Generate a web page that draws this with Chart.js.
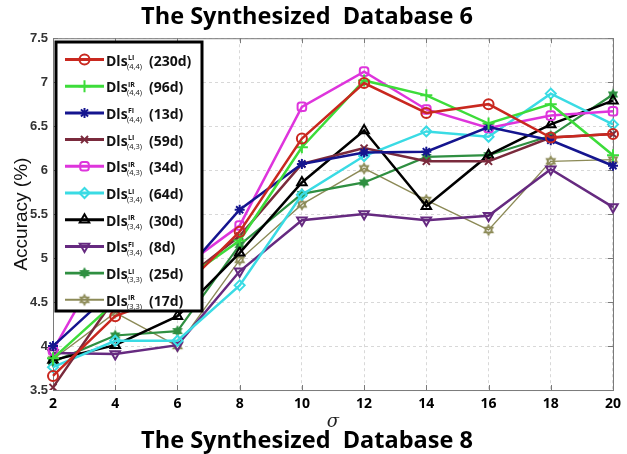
<!DOCTYPE html>
<html>
<head>
<meta charset="utf-8">
<script src="https://cdn.jsdelivr.net/npm/chart.js@4/dist/chart.umd.min.js"></script>
<style>
  html, body { margin: 0; padding: 0; background: #fff; }
  #wrap { width: 627px; height: 454px; }
</style>
</head>
<body>
<div id="wrap"><canvas id="c" width="627" height="454"></canvas></div>
<script>
// Noise level sigma on the x axis
const sigma = [2, 4, 6, 8, 10, 12, 14, 16, 18, 20];

// Accuracy (%) per descriptor variant
const li44 = [3.66, 4.34, 4.60, 5.30, 6.36, 6.99, 6.65, 6.75, 6.37, 6.41];
const ir44 = [3.86, 4.50, 4.70, 5.20, 6.26, 7.02, 6.85, 6.53, 6.75, 6.17];
const fi44 = [4.00, 4.65, 4.75, 5.55, 6.07, 6.20, 6.21, 6.49, 6.34, 6.05];
const li43 = [3.53, 4.55, 4.70, 5.25, 6.07, 6.25, 6.10, 6.10, 6.37, 6.41];
const ir43 = [3.95, 5.20, 4.85, 5.37, 6.72, 7.12, 6.69, 6.48, 6.62, 6.67];
const li34 = [3.76, 4.06, 4.06, 4.69, 5.72, 6.16, 6.44, 6.38, 6.87, 6.52];
const ir34 = [3.84, 4.01, 4.34, 5.06, 5.86, 6.45, 5.59, 6.17, 6.52, 6.79];
const fi34 = [3.92, 3.91, 4.01, 4.85, 5.43, 5.50, 5.43, 5.48, 6.01, 5.58];
const li33 = [3.82, 4.12, 4.17, 5.15, 5.73, 5.86, 6.15, 6.17, 6.39, 6.86];
const ir33 = [3.85, 4.38, 4.00, 4.98, 5.61, 6.02, 5.66, 5.32, 6.10, 6.12];

// Legend text pieces
const methods = ['LI', 'IR', 'FI', 'LI', 'IR', 'LI', 'IR', 'FI', 'LI', 'IR'];
const orders  = ['(4,4)', '(4,4)', '(4,4)', '(4,3)', '(4,3)', '(3,4)', '(3,4)', '(3,4)', '(3,3)', '(3,3)'];
const dims    = ['(230d)', '(96d)', '(13d)', '(59d)', '(34d)', '(64d)', '(30d)', '(8d)', '(25d)', '(17d)'];

const series = [li44, ir44, fi44, li43, ir43, li34, ir34, fi34, li33, ir33];
const colors = ['#c9281f', '#3ddc3a', '#15158f', '#7a2a3c', '#de35dc', '#3adbe4', '#000000', '#662a80', '#2f8f41', '#8c8a57'];

// Six-pointed star marker, hollow or filled
function hexagram(color, filled, r) {
  const s = Math.ceil(r * 2 + 4);
  const cv = document.createElement('canvas');
  cv.width = s; cv.height = s;
  const g = cv.getContext('2d');
  g.translate(s / 2, s / 2);
  g.strokeStyle = color; g.fillStyle = color; g.lineWidth = 1.4;
  for (const off of [0, Math.PI / 3]) {
    g.beginPath();
    for (let k = 0; k < 3; k++) {
      const a = off - Math.PI / 2 + k * 2 * Math.PI / 3;
      g.lineTo(r * Math.cos(a), r * Math.sin(a));
    }
    g.closePath();
    if (filled) g.fill(); else g.stroke();
  }
  return cv;
}

const markers = [
  { style: 'circle', rot: 0, fill: false, r: 5 },
  { style: 'cross', rot: 0, fill: false, r: 6 },
  { style: 'star', rot: 0, fill: false, r: 5 },
  { style: 'crossRot', rot: 0, fill: false, r: 5 },
  { style: 'rectRounded', rot: 0, fill: false, r: 5 },
  { style: 'rectRot', rot: 0, fill: false, r: 5 },
  { style: 'triangle', rot: 0, fill: false, r: 5.5 },
  { style: 'triangle', rot: 180, fill: false, r: 5.5 },
  { style: hexagram(colors[8], true, 6), rot: 0, fill: true, r: 6 },
  { style: hexagram(colors[9], false, 5), rot: 0, fill: false, r: 5 }
];
const widths = [2.5, 2.5, 2.5, 2.5, 2.5, 2.5, 2.5, 2.5, 2.2, 1.4];

const datasets = series.map((vals, i) => ({
  label: 'Dls' + methods[i] + orders[i] + ' ' + dims[i],
  data: vals,
  borderColor: colors[i],
  backgroundColor: markers[i].fill ? colors[i] : 'rgba(0,0,0,0)',
  borderWidth: widths[i],
  pointStyle: markers[i].style,
  pointRotation: markers[i].rot,
  pointRadius: markers[i].r,
  pointBorderWidth: 2,
  pointHoverRadius: markers[i].r,
  tension: 0
}));

// Frame with inward tick marks on all four sides
const framePlugin = {
  id: 'frame',
  beforeDatasetsDraw(chart) {
    const { ctx, chartArea: a, scales } = chart;
    ctx.save();
    ctx.strokeStyle = '#7a7a7a';
    ctx.lineWidth = 1;
    ctx.strokeRect(a.left + 0.5, a.top + 0.5, a.right - a.left, a.bottom - a.top);
    ctx.beginPath();
    scales.x.ticks.forEach((t, idx) => {
      const x = Math.round(scales.x.getPixelForTick(idx)) + 0.5;
      ctx.moveTo(x, a.bottom); ctx.lineTo(x, a.bottom - 5);
      ctx.moveTo(x, a.top); ctx.lineTo(x, a.top + 5);
    });
    scales.y.ticks.forEach(t => {
      const y = Math.round(scales.y.getPixelForValue(t.value)) + 0.5;
      ctx.moveTo(a.left, y); ctx.lineTo(a.left + 5, y);
      ctx.moveTo(a.right, y); ctx.lineTo(a.right - 5, y);
    });
    ctx.stroke();
    ctx.restore();
  }
};

// Boxed legend with super/subscripted labels
const legendPlugin = {
  id: 'boxLegend',
  afterDraw(chart) {
    const ctx = chart.ctx;
    const L = 56, T = 42, R = 202, B = 311;
    ctx.save();
    ctx.fillStyle = '#fff';
    ctx.fillRect(L, T, R - L, B - T);
    ctx.strokeStyle = '#000';
    ctx.lineWidth = 3;
    ctx.strokeRect(L, T, R - L, B - T);
    const step = 26.7;
    chart.data.datasets.forEach((ds, i) => {
      const yc = 59.5 + i * step;
      ctx.strokeStyle = ds.borderColor;
      ctx.lineWidth = ds.borderWidth + 0.5;
      ctx.beginPath();
      ctx.moveTo(65, yc); ctx.lineTo(104, yc);
      ctx.stroke();
      ctx.fillStyle = ds.backgroundColor;
      ctx.lineWidth = 2;
      Chart.helpers.drawPoint(ctx, {
        pointStyle: ds.pointStyle,
        rotation: ds.pointRotation,
        radius: ds.pointRadius,
        borderWidth: 2
      }, 84.5, yc);
      ctx.fillStyle = '#111';
      ctx.textAlign = 'left';
      ctx.textBaseline = 'alphabetic';
      ctx.font = 'bold 14px "Open Sans", sans-serif';
      ctx.fillText('Dls', 106, yc + 6);
      ctx.font = 'bold 7px "Open Sans", sans-serif';
      ctx.fillText(methods[i], 128, yc + 0.5);
      ctx.font = '7.5px "Open Sans", sans-serif';
      ctx.fillText(orders[i], 127, yc + 9);
      ctx.font = 'bold 14px "Open Sans", sans-serif';
      ctx.fillText(dims[i], 149, yc + 6);
    });
    ctx.restore();
  }
};

new Chart(document.getElementById('c'), {
  type: 'line',
  data: { labels: sigma, datasets },
  options: {
    responsive: false,
    animation: false,
    devicePixelRatio: 1,
    layout: { padding: { left: 0, right: 13, top: 0, bottom: 0 } },
    plugins: {
      legend: { display: false },
      tooltip: { enabled: false },
      title: {
        display: true,
        text: 'The Synthesized  Database 6',
        color: '#000',
        font: { family: '"Open Sans", sans-serif', size: 23.5, weight: 'bold', lineHeight: 1.2 },
        padding: { top: 3, bottom: 7 }
      },
      subtitle: {
        display: true,
        position: 'bottom',
        text: 'The Synthesized  Database 8',
        color: '#000',
        font: { family: '"Open Sans", sans-serif', size: 23.5, weight: 'bold', lineHeight: 0.85 },
        padding: { top: 0, bottom: 3 }
      }
    },
    scales: {
      x: {
        type: 'category',
        offset: false,
        afterFit(scale) { scale.height = 41; },
        grid: { color: '#d8d8d8', drawTicks: false },
        border: { display: false, dash: [3, 3] },
        ticks: {
          color: '#000',
          padding: 6,
          maxRotation: 0,
          font: { family: '"Open Sans", sans-serif', size: 14, weight: 'bold' }
        },
        title: {
          display: true,
          text: 'σ',
          color: '#222',
          font: { family: '"DejaVu Serif", serif', size: 18, style: 'italic', lineHeight: 1.0 },
          padding: { top: 0, bottom: 0 }
        }
      },
      y: {
        min: 3.5,
        max: 7.5,
        afterFit(scale) { scale.width = 53; },
        grid: { color: '#d8d8d8', drawTicks: false },
        border: { display: false, dash: [3, 3] },
        ticks: {
          stepSize: 0.5,
          color: '#333',
          padding: 5,
          font: { family: '"Liberation Sans", Arial, sans-serif', size: 13, weight: 'bold' },
          callback: v => String(v)
        },
        title: {
          display: true,
          text: 'Accuracy (%)',
          color: '#111',
          font: { family: '"Liberation Sans", Arial, sans-serif', size: 19 },
          padding: { top: 10, bottom: 0 }
        }
      }
    }
  },
  plugins: [framePlugin, legendPlugin]
});
</script>
</body>
</html>
